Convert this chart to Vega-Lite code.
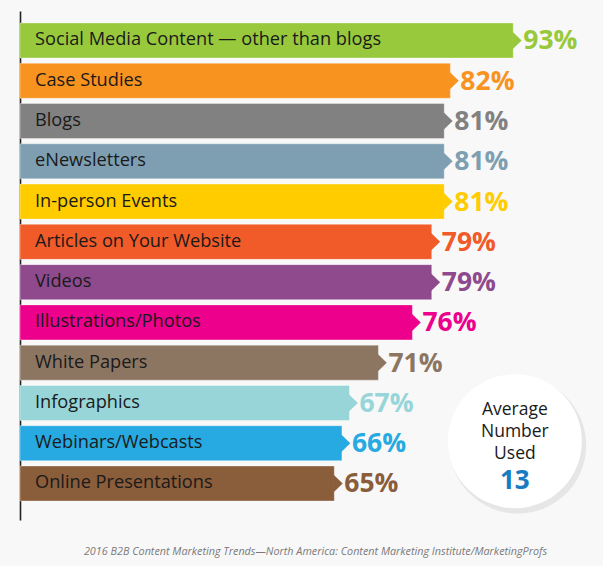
{
  "$schema": "https://vega.github.io/schema/vega-lite/v6.json",
  "width": 583,
  "height": 509,
  "autosize": {"type": "none"},
  "padding": {"left": 20, "top": 11, "right": 0, "bottom": 46},
  "background": "#f8f8f8",
  "config": {
    "view": {"stroke": null},
    "font": "Open Sans"
  },
  "title": {
    "text": "2016 B2B Content Marketing Trends—North America: Content Marketing Institute/MarketingProfs",
    "orient": "bottom",
    "anchor": "middle",
    "dx": 4,
    "offset": 26,
    "font": "Open Sans",
    "fontStyle": "italic",
    "fontWeight": "normal",
    "fontSize": 10.8,
    "color": "#7a7a7a"
  },
  "data": {
    "values": [
      {"type": "Social Media Content — other than blogs", "value": 93},
      {"type": "Case Studies", "value": 82},
      {"type": "Blogs", "value": 81},
      {"type": "eNewsletters", "value": 81},
      {"type": "In-person Events", "value": 81},
      {"type": "Articles on Your Website", "value": 79},
      {"type": "Videos", "value": 79},
      {"type": "Illustrations/Photos", "value": 76},
      {"type": "White Papers", "value": 71},
      {"type": "Infographics", "value": 67},
      {"type": "Webinars/Webcasts", "value": 66},
      {"type": "Online Presentations", "value": 65}
    ]
  },
  "transform": [{"calculate": "datum.value + '%'", "as": "label"}],
  "encoding": {
    "y": {
      "field": "type",
      "type": "nominal",
      "sort": null,
      "scale": {"paddingInner": 0.131, "paddingOuter": 0.385, "align": 0.387},
      "axis": {"labels": false, "ticks": false, "title": null, "grid": false, "domain": true, "domainColor": "#222222", "domainWidth": 1.6}
    }
  },
  "layer": [
    {
      "mark": {"type": "bar", "stroke": "white", "strokeOpacity": 0.35, "strokeWidth": 1},
      "encoding": {
        "x": {"field": "value", "type": "quantitative", "scale": {"type": "log", "domain": [34.65, 111.3], "zero": false, "nice": false}, "axis": null},
        "x2": {"datum": 34.65},
        "color": {
          "field": "type",
          "type": "nominal",
          "scale": {
            "domain": ["Social Media Content — other than blogs", "Case Studies", "Blogs", "eNewsletters", "In-person Events", "Articles on Your Website", "Videos", "Illustrations/Photos", "White Papers", "Infographics", "Webinars/Webcasts", "Online Presentations"],
            "range": ["#98c93c", "#f7931e", "#818181", "#7e9fb1", "#ffcc00", "#f15a29", "#8e4a8d", "#ec008c", "#8c7662", "#97d5d8", "#27aae1", "#8a5d3b"]
          },
          "legend": null
        }
      }
    },
    {
      "mark": {"type": "point", "filled": true, "opacity": 1, "shape": "M -0.1 -1 L 0.93 0 L -0.1 1 Z", "size": 324},
      "encoding": {
        "x": {"field": "value", "type": "quantitative"},
        "color": {"field": "type", "type": "nominal", "legend": null}
      }
    },
    {
      "mark": {"type": "text", "align": "left", "baseline": "middle", "dx": 15, "fontSize": 18.2, "color": "#1a1a1a"},
      "encoding": {
        "x": {"datum": 34.65},
        "text": {"field": "type"}
      }
    },
    {
      "mark": {"type": "text", "align": "left", "baseline": "middle", "dx": 10, "dy": 1, "fontSize": 26.5, "fontWeight": "bold"},
      "encoding": {
        "x": {"field": "value", "type": "quantitative"},
        "text": {"field": "label"},
        "color": {"field": "type", "type": "nominal", "legend": null}
      }
    },
    {
      "data": {"values": [{"line1": "Average", "line2": "Number", "line3": "Used", "avg": "13"}]},
      "layer": [
        {
          "mark": {"type": "point", "filled": true, "shape": "circle", "size": 18700, "color": "#000000", "opacity": 0.07, "xOffset": 3, "yOffset": 2},
          "encoding": {"x": {"datum": 93.3}, "y": {"datum": "Webinars/Webcasts"}}
        },
        {
          "mark": {"type": "point", "filled": true, "shape": "circle", "size": 17956, "color": "#ffffff", "opacity": 1, "yOffset": -2},
          "encoding": {"x": {"datum": 93.3}, "y": {"datum": "Webinars/Webcasts"}}
        },
        {
          "mark": {"type": "text", "align": "center", "baseline": "middle", "fontSize": 17.5, "dy": -33, "color": "#1a1a1a"},
          "encoding": {"x": {"datum": 93.3}, "y": {"datum": "Webinars/Webcasts"}, "text": {"field": "line1"}}
        },
        {
          "mark": {"type": "text", "align": "center", "baseline": "middle", "fontSize": 17.5, "dy": -11, "color": "#1a1a1a"},
          "encoding": {"x": {"datum": 93.3}, "y": {"datum": "Webinars/Webcasts"}, "text": {"field": "line2"}}
        },
        {
          "mark": {"type": "text", "align": "center", "baseline": "middle", "fontSize": 17.5, "dy": 11, "color": "#1a1a1a"},
          "encoding": {"x": {"datum": 93.3}, "y": {"datum": "Webinars/Webcasts"}, "text": {"field": "line3"}}
        },
        {
          "mark": {"type": "text", "align": "center", "baseline": "middle", "fontSize": 26, "fontWeight": "bold", "dy": 38, "fill": "#1b7bc1"},
          "encoding": {"x": {"datum": 93.3}, "y": {"datum": "Webinars/Webcasts"}, "text": {"field": "avg"}}
        }
      ]
    }
  ]
}
